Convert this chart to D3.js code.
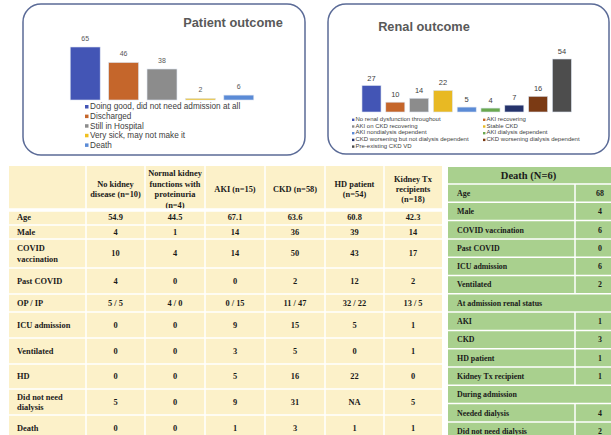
<!DOCTYPE html>
<html>
<head>
<meta charset="utf-8">
<script src="https://cdn.jsdelivr.net/npm/d3@7"></script>
<style>
  body { margin: 0; background: #fff; }
  svg { display: block; }
</style>
</head>
<body>
<div id="container"></div>
<script>
// ---- data ----
let patientCats = ["Doing good, did not need admission at all", "Discharged", "Still in Hospital", "Very sick, may not make it", "Death"];
let patientVals = [65, 46, 38, 2, 6];
let patientColors = ["#4355b5", "#c5662b", "#8c8c8c", "#f0c020", "#5b8bd6"];

let renalCats = ["No renal dysfunction throughout", "AKI recovering", "AKI on CKD recovering", "Stable CKD",
  "AKI nondialysis dependent", "AKI dialysis dependent", "CKD worsening but not dialysis dependent",
  "CKD worsening dialysis dependent", "Pre-existing CKD VD"];
let renalVals = [27, 10, 14, 22, 5, 4, 7, 16, 54];
let renalColors = ["#4355b5", "#c5662b", "#8c8c8c", "#e8b923", "#5b8bd6", "#6aa84f", "#25336b", "#7b3a14", "#4d4d4d"];

let tableHeaders = ["No kidney\ndisease (n=10)", "Normal kidney\nfunctions with\nproteinuria\n(n=4)", "AKI (n=15)", "CKD (n=58)", "HD patient\n(n=54)", "Kidney Tx\nrecipients\n(n=18)"];
let tableRowLabels = ["Age", "Male", "COVID\nvaccination", "Past COVID", "OP / IP", "ICU admission", "Ventilated", "HD", "Did not need\ndialysis", "Death"];
let tableValues = [
  ["54.9", "44.5", "67.1", "63.6", "60.8", "42.3"],
  ["4", "1", "14", "36", "39", "14"],
  ["10", "4", "14", "50", "43", "17"],
  ["4", "0", "0", "2", "12", "2"],
  ["5 / 5", "4 / 0", "0 / 15", "11 / 47", "32 / 22", "13 / 5"],
  ["0", "0", "9", "15", "5", "1"],
  ["0", "0", "3", "5", "0", "1"],
  ["0", "0", "5", "16", "22", "0"],
  ["5", "0", "9", "31", "NA", "5"],
  ["0", "0", "1", "3", "1", "1"]
];

let deathTitle = "Death (N=6)";
let deathLabels = ["Age", "Male", "COVID vaccination", "Past COVID", "ICU admission", "Ventilated",
  "At admission renal status", "AKI", "CKD", "HD patient", "Kidney Tx recipient",
  "During admission", "Needed dialysis", "Did not need dialysis"];
let deathVals = ["68", "4", "6", "0", "6", "2", null, "1", "3", "1", "1", null, "4", "2"];

let w = 611;
let h = 435;

let viz = d3.select("#container")
  .append("svg")
    .attr("width", w)
    .attr("height", h)
    .style("background-color", "#ffffff");

// ---- panels ----
function panel(x, y, pw, ph) {
  viz.append("rect")
    .attr("x", x).attr("y", y)
    .attr("width", pw).attr("height", ph)
    .attr("rx", 18).attr("ry", 18)
    .attr("fill", "#ffffff")
    .attr("stroke", "#5b6b97")
    .attr("stroke-width", 1.5);
}
panel(23, 4, 282, 151);
panel(328, 4, 281, 150);

// ---- patient outcome bars ----
viz.append("text")
  .attr("x", 233).attr("y", 27)
  .attr("text-anchor", "middle")
  .style("font-family", "Liberation Sans, Arial, sans-serif")
  .style("font-weight", "bold")
  .style("font-size", "12.8px")
  .style("fill", "#595959")
  .text("Patient outcome");

let px = d3.scaleBand().domain(patientCats).range([66, 258]).paddingInner(0.22).paddingOuter(0.11);
let py = d3.scaleLinear().domain([0, 65]).range([100, 47]);

let pBars = viz.append("g");
pBars.selectAll("rect").data(patientVals).enter()
  .append("rect")
    .attr("x", (d, i) => px(patientCats[i]))
    .attr("y", d => py(d))
    .attr("width", px.bandwidth())
    .attr("height", d => py(0) - py(d))
    .attr("fill", (d, i) => patientColors[i])
    .attr("stroke", "#dde4f0")
    .attr("stroke-width", 0.6);
pBars.selectAll("text").data(patientVals).enter()
  .append("text")
    .attr("x", (d, i) => px(patientCats[i]) + px.bandwidth() / 2)
    .attr("y", d => py(d) - 6)
    .attr("text-anchor", "middle")
    .style("font-family", "Liberation Sans, Arial, sans-serif")
    .style("font-size", "7px")
    .style("fill", "#595959")
    .text(d => d);

let pLeg = viz.append("g");
pLeg.selectAll("g").data(patientCats).enter()
  .append("g")
    .attr("transform", (d, i) => "translate(85," + (108 + i * 9.6) + ")")
  .each(function(d, i) {
    let g = d3.select(this);
    g.append("rect").attr("x", 0).attr("y", -3).attr("width", 3.5).attr("height", 3.5).attr("fill", patientColors[i]);
    g.append("text").attr("x", 5).attr("y", 1.4)
      .style("font-family", "Liberation Sans, Arial, sans-serif")
      .style("font-size", "8.2px")
      .style("fill", "#404040")
      .text(d);
  });

// ---- renal outcome bars ----
viz.append("text")
  .attr("x", 424).attr("y", 31)
  .attr("text-anchor", "middle")
  .style("font-family", "Liberation Sans, Arial, sans-serif")
  .style("font-weight", "bold")
  .style("font-size", "12.8px")
  .style("fill", "#595959")
  .text("Renal outcome");

let rx = d3.scaleBand().domain(renalCats).range([359.6, 573.8]).paddingInner(0.2).paddingOuter(0.1);
let ry = d3.scaleLinear().domain([0, 54]).range([112, 59]);

let rBars = viz.append("g");
rBars.selectAll("rect").data(renalVals).enter()
  .append("rect")
    .attr("x", (d, i) => rx(renalCats[i]))
    .attr("y", d => ry(d))
    .attr("width", rx.bandwidth())
    .attr("height", d => ry(0) - ry(d))
    .attr("fill", (d, i) => renalColors[i])
    .attr("stroke", "#dde4f0")
    .attr("stroke-width", 0.6);
rBars.selectAll("text").data(renalVals).enter()
  .append("text")
    .attr("x", (d, i) => rx(renalCats[i]) + rx.bandwidth() / 2)
    .attr("y", d => ry(d) - 5)
    .attr("text-anchor", "middle")
    .style("font-family", "Liberation Sans, Arial, sans-serif")
    .style("font-size", "7.5px")
    .style("fill", "#404040")
    .text(d => d);

let rLeg = viz.append("g");
rLeg.selectAll("g").data(renalCats).enter()
  .append("g")
    .attr("transform", (d, i) => "translate(" + (i % 2 === 0 ? 352 : 483) + "," + (121 + Math.floor(i / 2) * 6.7) + ")")
  .each(function(d, i) {
    let g = d3.select(this);
    g.append("rect").attr("x", 0).attr("y", -2.4).attr("width", 2.4).attr("height", 2.4).attr("fill", renalColors[i]);
    g.append("text").attr("x", 3.5).attr("y", 0)
      .style("font-family", "Liberation Sans, Arial, sans-serif")
      .style("font-size", "6px")
      .style("fill", "#404040")
      .text(d);
  });

// ---- left table ----
let colEdges = [9, 86, 145, 205, 265, 325, 384, 442];
let rowEdges = [166, 210, 225, 239, 268, 294, 312, 338, 364, 389, 415, 441];
let serif = "Liberation Serif, Times New Roman, serif";

let tbl = viz.append("g");
tbl.append("rect")
  .attr("x", colEdges[0]).attr("y", rowEdges[0])
  .attr("width", colEdges[colEdges.length - 1] - colEdges[0])
  .attr("height", rowEdges[rowEdges.length - 1] - rowEdges[0])
  .attr("fill", "#fcf1c9");

function multiline(g, str, x, cy, size, lh, anchor) {
  let lines = str.split("\n");
  let t = g.append("text")
    .attr("text-anchor", anchor)
    .style("font-family", serif)
    .style("font-weight", "bold")
    .style("font-size", size + "px")
    .style("fill", "#1a1a1a");
  lines.forEach((l, k) => {
    t.append("tspan")
      .attr("x", x)
      .attr("y", cy + (k - (lines.length - 1) / 2) * lh + size * 0.35)
      .text(l);
  });
}

tableHeaders.forEach((hd, j) => {
  let cx = (colEdges[j + 1] + colEdges[j + 2]) / 2;
  multiline(tbl, hd, cx, (rowEdges[0] + rowEdges[1]) / 2 + 1, 8.4, 10.4, "middle");
});
tableRowLabels.forEach((lb, i) => {
  let cy = (rowEdges[i + 1] + rowEdges[i + 2]) / 2;
  multiline(tbl, lb, 17, cy, 8.4, 10.4, "start");
  tableValues[i].forEach((v, j) => {
    let cx = (colEdges[j + 1] + colEdges[j + 2]) / 2;
    multiline(tbl, v, cx, cy, 8.4, 10.4, "middle");
  });
});

// white grid lines
colEdges.slice(1, -1).forEach(x => {
  tbl.append("line").attr("x1", x).attr("x2", x)
    .attr("y1", rowEdges[0]).attr("y2", rowEdges[rowEdges.length - 1])
    .attr("stroke", "#ffffff").attr("stroke-width", 1.5);
});
rowEdges.slice(1, -1).forEach((y, i) => {
  tbl.append("line").attr("x1", colEdges[0]).attr("x2", colEdges[colEdges.length - 1])
    .attr("y1", y).attr("y2", y)
    .attr("stroke", "#ffffff").attr("stroke-width", i === 0 ? 3.5 : 1.5);
});

// ---- death table ----
let dLeft = 448, dRight = 611, dDiv = 575;
let dTop = 167, dTitleBottom = 184, dRowH = 18.3;
let dt = viz.append("g");
dt.append("rect")
  .attr("x", dLeft).attr("y", dTop)
  .attr("width", dRight - dLeft)
  .attr("height", dTitleBottom - dTop + deathLabels.length * dRowH)
  .attr("fill", "#a9d08e");
dt.append("text")
  .attr("x", (dLeft + dRight) / 2 - 1).attr("y", (dTop + dTitleBottom) / 2 + 3.8)
  .attr("text-anchor", "middle")
  .style("font-family", serif)
  .style("font-weight", "bold")
  .style("font-size", "10.5px")
  .style("fill", "#1a1a1a")
  .text(deathTitle);

deathLabels.forEach((lb, i) => {
  let y0 = dTitleBottom + i * dRowH;
  let cy = y0 + dRowH / 2;
  dt.append("line").attr("x1", dLeft).attr("x2", dRight).attr("y1", y0).attr("y2", y0)
    .attr("stroke", "#ffffff").attr("stroke-width", 1.5);
  dt.append("text")
    .attr("x", 457).attr("y", cy + 2.8)
    .style("font-family", serif)
    .style("font-weight", "bold")
    .style("font-size", "7.9px")
    .style("fill", "#1a1a1a")
    .text(lb);
  if (deathVals[i] !== null) {
    dt.append("line").attr("x1", dDiv).attr("x2", dDiv).attr("y1", y0).attr("y2", y0 + dRowH)
      .attr("stroke", "#ffffff").attr("stroke-width", 1.5);
    dt.append("text")
      .attr("x", 600).attr("y", cy + 2.8)
      .attr("text-anchor", "middle")
      .style("font-family", serif)
      .style("font-weight", "bold")
      .style("font-size", "7.9px")
      .style("fill", "#1a1a1a")
      .text(deathVals[i]);
  }
});
</script>
</body>
</html>
